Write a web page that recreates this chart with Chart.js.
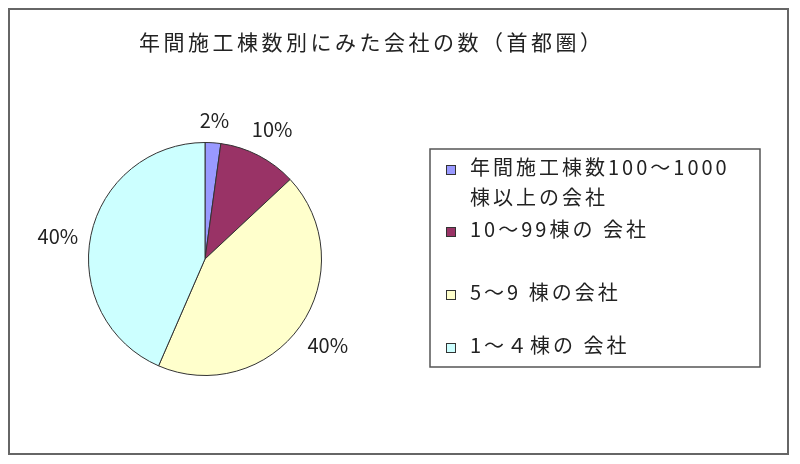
<!DOCTYPE html>
<html><head><meta charset="utf-8">
<script src="https://cdn.jsdelivr.net/npm/chart.js@4.4.1/dist/chart.umd.min.js"></script>
<style>html,body{margin:0;padding:0;background:#fff}#wrap{width:800px;height:464px}</style>
</head><body><div id="wrap"><canvas id="c" width="800" height="464"></canvas></div>
<script>
const titleText = '年間施工棟数別にみた会社の数（首都圏）';
const categories = ['年間施工棟数100～1000棟以上の会社', '10～99棟の 会社', '5～9 棟の会社', '1～４棟の 会社'];
const legendLines = [['年間施工棟数100～1000', '棟以上の会社'], ['10～99棟の 会社'], ['5～9 棟の会社'], ['1～４棟の 会社']];
const values = [2, 10, 40, 40];
const percentLabels = ['2%', '10%', '40%', '40%'];
const colors = ['#9999FF', '#993366', '#FFFFCC', '#CCFFFF'];

const FONT = '"Noto Sans CJK JP", "Noto Sans", sans-serif';
const TEXT = '#222';

const decor = {
  id: 'decor',
  beforeDraw(chart) {
    const ctx = chart.ctx;
    ctx.save();
    ctx.fillStyle = '#fff';
    ctx.fillRect(0, 0, chart.width, chart.height);
    ctx.strokeStyle = '#666';
    ctx.lineWidth = 2;
    ctx.strokeRect(9, 9, 779, 445);
    ctx.restore();
  },
  afterDraw(chart) {
    const ctx = chart.ctx;
    ctx.save();
    ctx.fillStyle = TEXT;
    ctx.textBaseline = 'middle';
    // title
    ctx.font = '21px ' + FONT;
    ctx.letterSpacing = '3.5px';
    ctx.textAlign = 'left';
    ctx.fillText(titleText, 139, 42);
    // slice labels
    ctx.font = '20px ' + FONT;
    ctx.letterSpacing = '0px';
    ctx.textAlign = 'center';
    const meta = chart.getDatasetMeta(0);
    meta.data.forEach((arc, i) => {
      const mid = (arc.startAngle + arc.endAngle) / 2;
      const c = Math.cos(mid), s = Math.sin(mid);
      const w = ctx.measureText(percentLabels[i]).width, h = 18;
      const d = Math.abs(c) * w / 2 + Math.abs(s) * h / 2;
      const r = arc.outerRadius + 12 + d;
      ctx.fillText(percentLabels[i], arc.x + r * c, arc.y + r * s + (s < 0 && Math.abs(c) > 0.9 ? 8 : 0));
    });
    // legend box
    ctx.strokeStyle = '#555';
    ctx.lineWidth = 1.5;
    ctx.strokeRect(430, 149, 330, 218);
    const rowY = [[167, 197], [229], [292], [345]];
    ctx.font = '20px ' + FONT;
    ctx.letterSpacing = '3px';
    ctx.textAlign = 'left';
    legendLines.forEach((lines, i) => {
      const my = rowY[i][0] + 3;
      ctx.fillStyle = colors[i];
      ctx.fillRect(446, my - 5, 10, 10);
      ctx.strokeStyle = '#333';
      ctx.lineWidth = 1;
      ctx.strokeRect(446.5, my - 4.5, 9, 9);
      ctx.fillStyle = TEXT;
      lines.forEach((ln, j) => ctx.fillText(ln, 470, rowY[i][j]));
    });
    ctx.restore();
  }
};

new Chart(document.getElementById('c'), {
  type: 'pie',
  data: {
    labels: categories,
    datasets: [{
      data: values,
      backgroundColor: colors,
      borderColor: '#333',
      borderWidth: 1
    }]
  },
  options: {
    responsive: false,
    animation: false,
    devicePixelRatio: 1,
    layout: { padding: { left: 88, top: 141, right: 478, bottom: 87 } },
    plugins: { legend: { display: false }, tooltip: { enabled: false }, title: { display: false } }
  },
  plugins: [decor]
});
</script></body></html>
